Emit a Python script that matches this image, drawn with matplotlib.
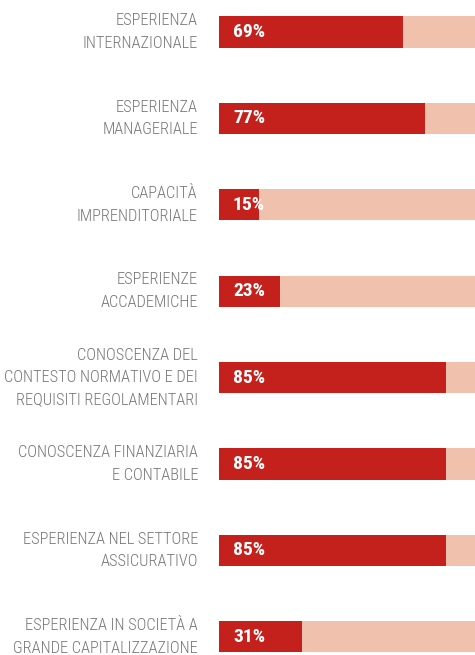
import matplotlib
matplotlib.use("Agg")
import matplotlib.pyplot as plt
from matplotlib.transforms import blended_transform_factory

categories = [
    "ESPERIENZA\nINTERNAZIONALE",
    "ESPERIENZA\nMANAGERIALE",
    "CAPACITÀ\nIMPRENDITORIALE",
    "ESPERIENZE\nACCADEMICHE",
    "CONOSCENZA DEL\nCONTESTO NORMATIVO E DEI\nREQUISITI REGOLAMENTARI",
    "CONOSCENZA FINANZIARIA\nE CONTABILE",
    "ESPERIENZA NEL SETTORE\nASSICURATIVO",
    "ESPERIENZA IN SOCIETÀ A\nGRANDE CAPITALIZZAZIONE",
]
values = [69, 77, 15, 23, 85, 85, 85, 31]
pct_labels = ["69%", "77%", "15%", "23%", "85%", "85%", "85%", "31%"]

RED = "#C4211C"
LIGHT = "#F0C1AD"
GREY = "#777777"
FONT = ["Roboto Condensed", "DejaVu Sans"]

W, H = 475, 655
fig = plt.figure(figsize=(W / 100, H / 100), dpi=100)
ax = fig.add_axes([219 / W, 0, 256 / W, 1])
ax.set_axis_off()

pos = list(range(len(categories)))
ax.barh(pos, [100] * len(values), height=0.36, color=LIGHT, linewidth=0)
ax.barh(pos, values, height=0.36, color=RED, linewidth=0)
ax.set_xlim(0, 95.9)
step = 86.4
ax.set_ylim((H - 32) / step, -32 / step)

tr = blended_transform_factory(fig.transFigure, ax.transData)
for i, (cat, lab) in enumerate(zip(categories, pct_labels)):
    ax.text(198 / W, i, cat, transform=tr, ha="right", va="center",
            fontsize=11.8, color=GREY, family=FONT, fontweight="light",
            linespacing=1.62, clip_on=False)
    ax.text(5.2, i, lab, ha="left", va="center", fontsize=14,
            fontweight="bold", color="white", family=FONT)

fig.savefig("out.png", dpi=100)
